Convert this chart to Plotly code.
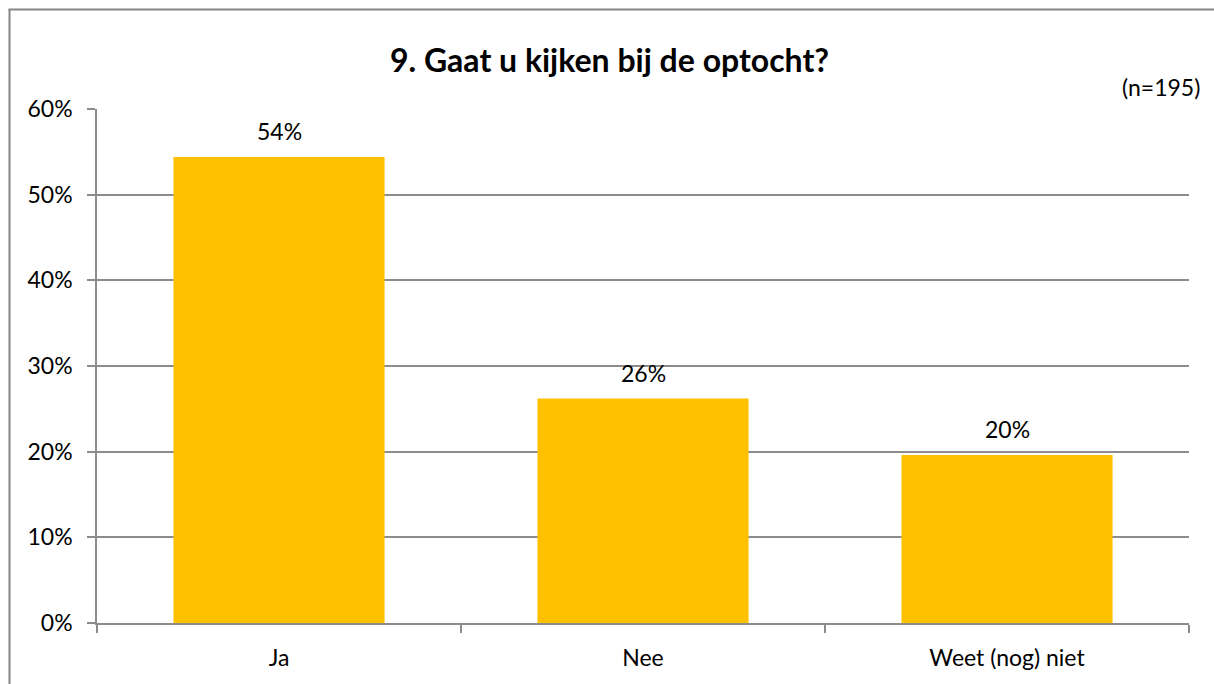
import plotly.graph_objects as go

categories = ["Ja", "Nee", "Weet (nog) niet"]
values = [0.544, 0.262, 0.196]
title_text = "9. Gaat u kijken bij de optocht?"
n_text = "(n=195)"
bar_color = "#FFC000"
grid_color = "#8C8C8C"
font_family = "Lato, Carlito, Calibri, 'Open Sans', sans-serif"

fig = go.Figure()
fig.add_trace(go.Bar(
    x=categories, y=values, marker_color=bar_color, marker_line_width=0,
))

W, H = 1214, 684
L, R, T, B = 97, 1214 - 1189, 109, 684 - 623
pw, ph = W - L - R, H - T - B

def px(x):
    return (x - L) / pw

def py(y):
    return (H - B - y) / ph

annotations = [
    dict(text=f"<b>{title_text}</b>", xref="paper", yref="paper",
         x=px(609), y=py(60), xanchor="center", yanchor="middle",
         showarrow=False, font=dict(size=32, family=font_family)),
    dict(text=n_text, xref="paper", yref="paper",
         x=px(1202), y=py(87), xanchor="right", yanchor="middle",
         showarrow=False, font=dict(size=23, family=font_family)),
]
for c, v in zip(categories, values):
    annotations.append(dict(
        x=c, y=v, xref="x", yref="y", text=f"{v*100:.0f}%",
        showarrow=False, yanchor="bottom", yshift=10,
        font=dict(size=23, family=font_family, color="#000000"),
    ))

border = dict(color="#868686", width=2)
fig.update_layout(
    width=W, height=H,
    margin=dict(l=L, r=R, t=T, b=B, pad=0),
    paper_bgcolor="white", plot_bgcolor="white",
    bargap=0.42, showlegend=False,
    font=dict(family=font_family, color="#000000", size=23),
    xaxis=dict(
        type="category", tickson="boundaries", ticks="outside", ticklen=8,
        tickcolor=grid_color, tickwidth=1.5, showline=True, linecolor=grid_color,
        linewidth=1.5, showgrid=False, tickfont=dict(size=23),
        ticklabelstandoff=14,
    ),
    yaxis=dict(
        range=[0, 0.6], dtick=0.1, tickformat=".0%", ticks="outside", ticklen=8,
        tickcolor=grid_color, tickwidth=1.5, showline=True, linecolor=grid_color,
        linewidth=1.5, showgrid=True, gridcolor=grid_color, gridwidth=1.5,
        zeroline=False, tickfont=dict(size=23), ticklabelstandoff=10,
    ),
    shapes=[
        dict(type="line", xref="paper", yref="paper",
             x0=px(9.5), x1=px(9.5), y0=py(690), y1=py(9.5), line=border),
        dict(type="line", xref="paper", yref="paper",
             x0=px(8.5), x1=px(1220), y0=py(9.5), y1=py(9.5), line=border),
        dict(type="rect", xref="paper", yref="paper", layer="above",
             x0=px(1194), x1=px(1220), y0=py(690), y1=py(11),
             line=dict(width=0), fillcolor="white"),
    ],
    annotations=annotations,
)

fig.write_html(
    "out.html",
    config={"displayModeBar": False},
    post_script="document.body.style.margin='0';document.body.style.overflow='hidden';",
)
